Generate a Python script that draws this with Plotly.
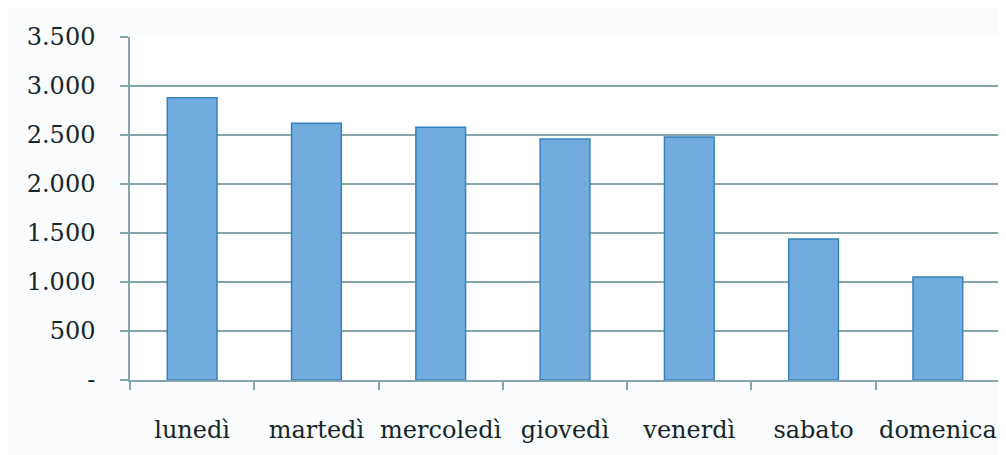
import plotly.graph_objects as go

days = ["lunedì", "martedì", "mercoledì", "giovedì", "venerdì", "sabato", "domenica"]
values = [2880, 2620, 2580, 2460, 2480, 1440, 1050]
tick_vals = [0, 500, 1000, 1500, 2000, 2500, 3000, 3500]
tick_text = ["-", "500", "1.000", "1.500", "2.000", "2.500", "3.000", "3.500"]

font_family = "DejaVu Serif"
text_color = "#14262b"
grid_color = "#86a6ae"

fig = go.Figure(
    go.Bar(
        x=days,
        y=values,
        width=0.4,
        marker=dict(color="#72acdf", line=dict(color="#3581bf", width=1.5)),
    )
)

fig.update_layout(
    width=1006,
    height=455,
    margin=dict(l=122, r=14, t=29, b=83),
    paper_bgcolor="#fbfcfd",
    plot_bgcolor="#ffffff",
    showlegend=False,
    font=dict(family=font_family, size=24, color=text_color),
)

fig.update_yaxes(
    range=[0, 3500],
    tickvals=tick_vals,
    ticktext=tick_text,
    showgrid=True,
    gridcolor=grid_color,
    gridwidth=1.5,
    showline=True,
    linecolor=grid_color,
    linewidth=1.5,
    ticks="outside",
    ticklen=8,
    tickcolor=grid_color,
    tickwidth=1.5,
    ticklabelstandoff=20,
    zeroline=False,
    tickfont=dict(family=font_family, size=24, color=text_color),
)

fig.update_xaxes(
    showgrid=False,
    showline=True,
    linecolor=grid_color,
    linewidth=1.5,
    ticks="outside",
    tickson="boundaries",
    ticklen=8,
    tickcolor=grid_color,
    tickwidth=1.5,
    ticklabelstandoff=27,
    tickangle=0,
    tickfont=dict(family=font_family, size=24, color=text_color),
)

fig.write_html("out.html")
